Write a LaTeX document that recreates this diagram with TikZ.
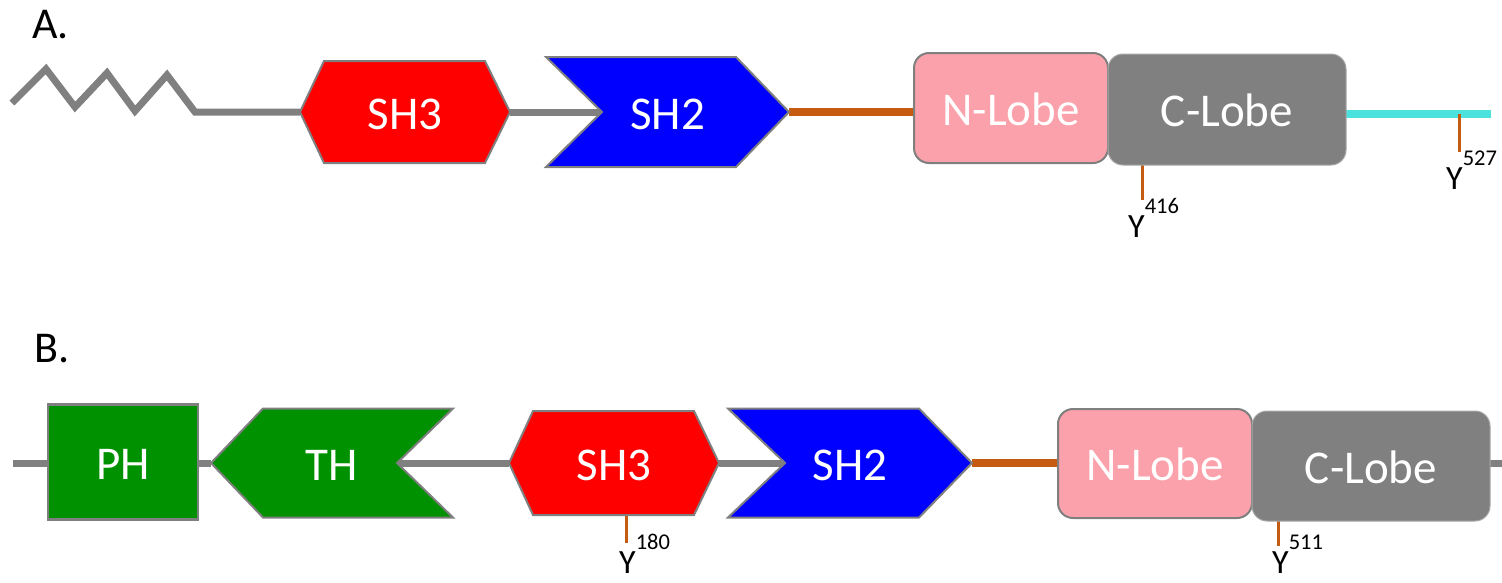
\documentclass[tikz,border=0pt]{standalone}
\usepackage{fontspec}
\setmainfont{Carlito}
\usetikzlibrary{calc}

\definecolor{linegray}{HTML}{808080}
\definecolor{bordergray}{HTML}{7F7F7F}
\definecolor{lobegray}{HTML}{808080}
\definecolor{lobeedge}{HTML}{A8A8A8}
\definecolor{sh3red}{HTML}{FF0000}
\definecolor{sh2blue}{HTML}{0000FF}
\definecolor{phgreen}{HTML}{009100}
\definecolor{nlobepink}{HTML}{FAA1AB}
\definecolor{kinorange}{HTML}{C55A11}
\definecolor{tailcyan}{HTML}{4BE1DC}

\pgfdeclarelayer{bg}
\pgfsetlayers{bg,main}

% tyrosine site label: Y with a raised residue number
\newcommand{\tyrsite}[1]{Y\raisebox{24pt}{\fontsize{22.5}{22.5}\selectfont #1}}

\tikzset{
  dom/.style={inner sep=0pt, outer sep=0pt, text=white,
    font=\fontsize{47}{50}\selectfont, text height=34pt, text depth=0pt},
  lobe/.style={dom, rounded corners=15pt, line width=2pt},
  edge/.style={draw=bordergray, line width=2pt, line join=miter},
  link/.style={draw=linegray, line width=7pt, line join=miter},
  kin/.style={draw=kinorange, line width=8pt},
  tail/.style={draw=tailcyan, line width=8pt},
  tick/.style={draw=kinorange, line width=3pt},
  ylab/.style={inner sep=0pt, font=\fontsize{34}{36}\selectfont, anchor=base west},
  panel/.style={inner sep=0pt, font=\fontsize{44}{48}\selectfont, anchor=base west}
}

\begin{document}
\begin{tikzpicture}[x=1pt, y=-1pt]
\useasboundingbox (0,0) rectangle (1502,582);

% ---------------- panel A ----------------
\node[panel] (labA) at (32,38) {A.};

\coordinate (z0) at (12,103);
\coordinate (z1) at (46,69);
\coordinate (z2) at (75,107);
\coordinate (z3) at (107,73);
\coordinate (z4) at (135,111);
\coordinate (z5) at (167,75);
\coordinate (z6) at (195,112);

\node[dom, minimum width=210pt, minimum height=102pt] (sh3a) at (405,112) {SH3};
\node[dom, minimum width=243pt, minimum height=110pt] (sh2a) at (667.5,112) {SH2};
\node[lobe, fill=nlobepink, draw=bordergray, minimum width=194pt, minimum height=110pt] (nla) at (1011,108) {N-Lobe};
\node[lobe, fill=lobegray, draw=lobeedge, line width=1pt, minimum width=238pt, minimum height=111pt] (cla) at (1227,109.5) {C-Lobe};

\coordinate (sh2a-notch) at ($(sh2a.west)+(56,0)$);
\coordinate (atail) at (1491,114);
\coordinate (y416) at (1142,200);
\coordinate (y527) at (1459,152);

\node[ylab] (y416lab) at ($(y416)+(-14,37)$) {\tyrsite{416}};
\node[ylab] (y527lab) at ($(y527)+(-13,37)$) {\tyrsite{527}};

% ---------------- panel B ----------------
\node[panel] (labB) at (34,362) {B.};

\coordinate (bstart) at (13,463);
\coordinate (bend) at (1502,463);

\node[dom, fill=phgreen, draw=bordergray, line width=2.5pt, minimum width=150pt, minimum height=115pt] (ph) at (123,462) {PH};
\node[dom, minimum width=242pt, minimum height=109pt] (th) at (332,463) {TH};
\node[dom, minimum width=210pt, minimum height=104pt] (sh3b) at (614,463) {SH3};
\node[dom, minimum width=244pt, minimum height=109pt] (sh2b) at (850,463) {SH2};
\node[lobe, fill=nlobepink, draw=bordergray, minimum width=194pt, minimum height=109pt] (nlb) at (1155,463.5) {N-Lobe};
\node[lobe, fill=lobegray, draw=lobeedge, line width=1pt, minimum width=238pt, minimum height=110pt] (clb) at (1371,466) {C-Lobe};

\coordinate (th-notch) at ($(th.east)+(-56,0)$);
\coordinate (sh2b-notch) at ($(sh2b.west)+(57,0)$);
\coordinate (y180) at (626,543);
\coordinate (y511) at (1278,546);

\node[ylab] (y180lab) at ($(y180)+(-7,30)$) {\tyrsite{180}};
\node[ylab] (y511lab) at ($(y511)+(-6,27)$) {\tyrsite{511}};

\begin{pgfonlayer}{bg}
  % linkers of panel A
  \draw[link] (z0) -- (z1) -- (z2) -- (z3) -- (z4) -- (z5) -- (z6) -- (sh3a.west);
  \draw[link] (sh3a.east) -- (sh2a-notch);
  \draw[kin] (sh2a.east) -- (sh2a.east -| nla.west);
  \draw[tail] (atail -| cla.east) -- (atail);
  \draw[tick] (y416 |- cla.south) -- (y416);
  \draw[tick] (y527 |- atail) -- (y527);

  % linkers of panel B
  \draw[link] (bstart) -- (bstart -| ph.west);
  \draw[link] (th.west -| ph.east) -- (th.west);
  \draw[link] (th-notch) -- (sh3b.west);
  \draw[link] (sh3b.east) -- (sh2b-notch);
  \draw[kin] (sh2b.east) -- (sh2b.east -| nlb.west);
  \draw[link] (bend -| clb.east) -- (bend);
  \draw[tick] (y180 |- sh3b.south) -- (y180);
  \draw[tick] (y511 |- clb.south) -- (y511);

  % SH3 hexagons
  \path[edge, fill=sh3red] (sh3a.west) -- ($(sh3a.north west)+(24,0)$) -- ($(sh3a.north east)+(-25,0)$)
    -- (sh3a.east) -- ($(sh3a.south east)+(-25,0)$) -- ($(sh3a.south west)+(24,0)$) -- cycle;
  \path[edge, fill=sh3red] (sh3b.west) -- ($(sh3b.north west)+(24,0)$) -- ($(sh3b.north east)+(-25,0)$)
    -- (sh3b.east) -- ($(sh3b.south east)+(-25,0)$) -- ($(sh3b.south west)+(24,0)$) -- cycle;

  % SH2 chevrons
  \path[edge, fill=sh2blue] (sh2a.north west) -- ($(sh2a.north east)+(-53,0)$) -- (sh2a.east)
    -- ($(sh2a.south east)+(-53,0)$) -- (sh2a.south west) -- (sh2a-notch) -- cycle;
  \path[edge, fill=sh2blue] (sh2b.north west) -- ($(sh2b.north east)+(-53,0)$) -- (sh2b.east)
    -- ($(sh2b.south east)+(-53,0)$) -- (sh2b.south west) -- (sh2b-notch) -- cycle;

  % TH chevron, pointing left
  \path[edge, fill=phgreen] (th.west) -- ($(th.north west)+(52,0)$) -- (th.north east)
    -- (th-notch) -- (th.south east) -- ($(th.south west)+(52,0)$) -- cycle;
\end{pgfonlayer}
\end{tikzpicture}
\end{document}
